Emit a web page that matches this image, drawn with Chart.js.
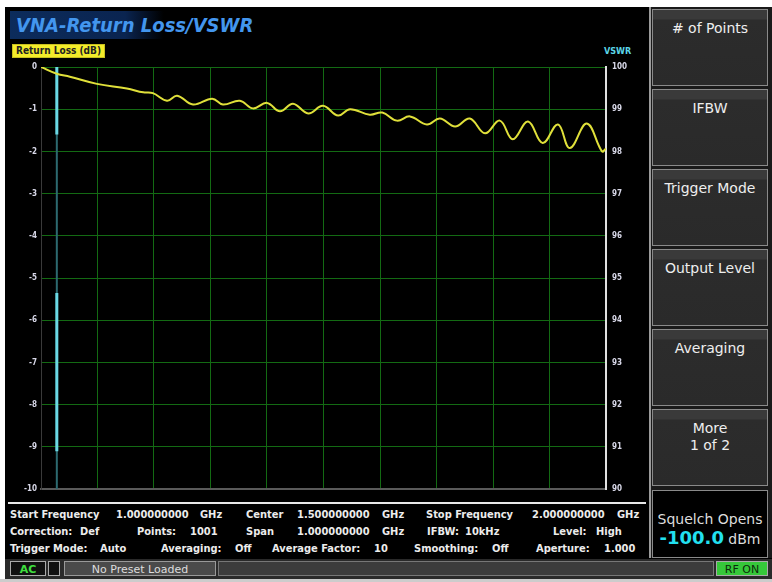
<!DOCTYPE html>
<html>
<head>
<meta charset="utf-8">
<script src="https://cdn.jsdelivr.net/npm/chart.js@4/dist/chart.umd.min.js"></script>
<style>
  body { margin: 0; width: 772px; height: 582px; background: #fff; overflow: hidden; font-family: "DejaVu Sans", sans-serif; position: relative; }
  .abs { position: absolute; }
  #screen { left: 5px; top: 7px; width: 767px; height: 575px; background: #000; }
  #title { left: 10px; top: 11px; width: 250px; height: 28px; font: italic bold 20px "DejaVu Sans Condensed", "DejaVu Sans", sans-serif; color: #4396ee; padding-left: 6px; line-height: 28px; white-space: nowrap;
           background: linear-gradient(90deg, #0c2c5c 0%, #0a2450 45%, rgba(0,0,0,0) 60%); }
  #rlTag { left: 12px; top: 44px; background: #f4ec2a; color: #222; font: bold 10px "DejaVu Sans Condensed", "DejaVu Sans", sans-serif; padding: 0 3px; border: 1px solid #c8c020; line-height: 12px; white-space: nowrap; }
  #vswrTag { left: 604px; top: 46px; color: #5cd6e8; font: bold 9px "DejaVu Sans Condensed", "DejaVu Sans", sans-serif; }
  #chartBox { left: 5px; top: 40px; width: 643px; height: 460px; }
  #sep { left: 8px; top: 502px; width: 638px; height: 2px; background: #e8e8e8; }
  .info { font: bold 11px "DejaVu Sans Condensed", "DejaVu Sans", sans-serif; color: #ececec; white-space: pre; }
  .btn { left: 652px; width: 116px; height: 77px; background: linear-gradient(#3a3a3a 0px, #3a3a3a 9px, #2c2c2c 10px, #2a2a2a 100%); border: 1px solid #8a8a8a; box-sizing: border-box; color: #eee; font: 14px "DejaVu Sans", sans-serif; text-align: center; padding-top: 10px; line-height: 17px; }
  #rightBg { left: 649px; top: 7px; width: 123px; height: 551px; background: #1a1a1a; border-left: 2px solid #9a9a9a; box-sizing: border-box; }
  #squelch { left: 652px; top: 490px; width: 116px; height: 68px; background: #000; border: 1px solid #8a8a8a; box-sizing: border-box; text-align: center; color: #ddd; font: 14px "DejaVu Sans", sans-serif; padding-top: 20px; }
  #squelch b { color: #22e0f0; font-size: 18px; }
  #status { left: 5px; top: 559px; width: 767px; height: 20px; background: #2a2a2a; }
  .sbox { top: 561px; height: 15px; font: 11px "DejaVu Sans", sans-serif; line-height: 15px; text-align: center; box-sizing: border-box; }
</style>
</head>
<body>
<div id="screen" class="abs"></div>
<div id="rightBg" class="abs"></div>
<div id="title" class="abs">VNA-Return Loss/VSWR</div>
<div id="rlTag" class="abs">Return Loss (dB)</div>
<div id="vswrTag" class="abs">VSWR</div>
<div id="chartBox" class="abs"><canvas id="c" width="643" height="460"></canvas></div>
<div id="sep" class="abs"></div>

<div class="abs info" style="left:10px;top:508px">Start Frequency</div>
<div class="abs info" style="left:116px;top:508px">1.000000000</div>
<div class="abs info" style="left:200px;top:508px">GHz</div>
<div class="abs info" style="left:246px;top:508px">Center</div>
<div class="abs info" style="left:297px;top:508px">1.500000000</div>
<div class="abs info" style="left:382px;top:508px">GHz</div>
<div class="abs info" style="left:426px;top:508px">Stop Frequency</div>
<div class="abs info" style="left:532px;top:508px">2.000000000</div>
<div class="abs info" style="left:617px;top:508px">GHz</div>

<div class="abs info" style="left:10px;top:525px">Correction:</div>
<div class="abs info" style="left:80px;top:525px">Def</div>
<div class="abs info" style="left:137px;top:525px">Points:</div>
<div class="abs info" style="left:190px;top:525px">1001</div>
<div class="abs info" style="left:246px;top:525px">Span</div>
<div class="abs info" style="left:297px;top:525px">1.000000000</div>
<div class="abs info" style="left:382px;top:525px">GHz</div>
<div class="abs info" style="left:427px;top:525px">IFBW:</div>
<div class="abs info" style="left:465px;top:525px">10kHz</div>
<div class="abs info" style="left:553px;top:525px">Level:</div>
<div class="abs info" style="left:596px;top:525px">High</div>

<div class="abs info" style="left:10px;top:542px">Trigger Mode:</div>
<div class="abs info" style="left:100px;top:542px">Auto</div>
<div class="abs info" style="left:161px;top:542px">Averaging:</div>
<div class="abs info" style="left:235px;top:542px">Off</div>
<div class="abs info" style="left:272px;top:542px">Average Factor:</div>
<div class="abs info" style="left:374px;top:542px">10</div>
<div class="abs info" style="left:414px;top:542px">Smoothing:</div>
<div class="abs info" style="left:492px;top:542px">Off</div>
<div class="abs info" style="left:536px;top:542px">Aperture:</div>
<div class="abs info" style="left:604px;top:542px">1.000</div>

<div class="abs btn" style="top:9px"># of Points</div>
<div class="abs btn" style="top:89px">IFBW</div>
<div class="abs btn" style="top:169px">Trigger Mode</div>
<div class="abs btn" style="top:249px">Output Level</div>
<div class="abs btn" style="top:329px">Averaging</div>
<div class="abs btn" style="top:409px">More<br>1 of 2</div>
<div id="squelch" class="abs">Squelch Opens<br><b>-100.0</b> dBm</div>

<div id="status" class="abs"></div>
<div class="abs sbox" style="left:10px;width:36px;background:#111;color:#3fe03f;border:1px solid #aaa;font-weight:bold">AC</div>
<div class="abs sbox" style="left:48px;width:12px;background:#111;border:1px solid #aaa"></div>
<div class="abs sbox" style="left:64px;width:152px;background:#4a4a4a;color:#ddd;border:1px solid #999">No Preset Loaded</div>
<div class="abs sbox" style="left:218px;width:496px;background:#3c3c3c;border:1px solid #777"></div>
<div class="abs sbox" style="left:716px;width:52px;background:#36c83a;color:#0b2b0b;border:1px solid #aaa">RF ON</div>
<div class="abs" style="left:0;top:579px;width:772px;height:3px;background:#ccc"></div>

<script>
// Return loss trace (GHz, dB) at peaks and troughs
const freqGHz = [1.000, 1.028, 1.051, 1.099, 1.152, 1.181, 1.198, 1.223, 1.241, 1.269, 1.303, 1.322, 1.352, 1.375,
  1.400, 1.423, 1.446, 1.473, 1.499, 1.526, 1.547, 1.582, 1.604, 1.630, 1.653, 1.683, 1.706, 1.733, 1.759,
  1.786, 1.812, 1.835, 1.862, 1.888, 1.915, 1.936, 1.966, 1.993, 2.000];
const returnLossDb = [0.00, -0.16, -0.23, -0.40, -0.51, -0.60, -0.62, -0.80, -0.68, -0.89, -0.75, -0.89, -0.80, -0.98,
  -0.85, -1.05, -0.87, -1.10, -0.92, -1.15, -1.00, -1.13, -1.08, -1.27, -1.17, -1.36, -1.22, -1.41, -1.22,
  -1.57, -1.27, -1.71, -1.29, -1.80, -1.36, -1.92, -1.34, -2.00, -1.93];

// marker line
const markerFreq = [1.028, 1.028];
const markerFull = [0, -10];
const markerTop = [0, -1.6];
const markerLow = [-5.35, -9.1];

const freqRange = [1.0, 2.0];
const freqGrid = [1.0, 1.1, 1.2, 1.3, 1.4, 1.5, 1.6, 1.7, 1.8, 1.9, 2.0];
const lossTicks = [0, -1, -2, -3, -4, -5, -6, -7, -8, -9, -10];
const vswrTicks = [100, 99, 98, 97, 96, 95, 94, 93, 92, 91, 90];

const pts = (xs, ys) => ys.map((y, i) => ({ x: xs[i], y }));
const setTicks = vals => scale => { scale.ticks = vals.map(v => ({ value: v })); };

// higher order = drawn underneath
new Chart(document.getElementById("c").getContext("2d"), {
  type: "line",
  data: {
    datasets: [
      { data: pts(markerFreq, markerFull), borderColor: "#2d6a70", borderWidth: 2, pointRadius: 0, order: 3 },
      { data: pts(markerFreq, markerTop), borderColor: "#6ad8e4", borderWidth: 3, pointRadius: 0, order: 2 },
      { data: pts(markerFreq, markerLow), borderColor: "#6ad8e4", borderWidth: 3, pointRadius: 0, order: 2 },
      { data: pts(freqGHz, returnLossDb), borderColor: "#e0e03a", borderWidth: 2, pointRadius: 0, tension: 0.4, order: 1 }
    ]
  },
  options: {
    responsive: false, animation: false,
    layout: { padding: { top: 27, bottom: 6, left: 0, right: 0 } },
    plugins: { legend: { display: false }, tooltip: { enabled: false } },
    scales: {
      x: {
        type: "linear", min: freqRange[0], max: freqRange[1],
        afterBuildTicks: setTicks(freqGrid),
        ticks: { display: false },
        grid: { color: "#136a13", lineWidth: 1, drawTicks: false },
        border: { color: "#5a5a5a", width: 2 },
        afterFit: s => { s.height = 0; }
      },
      y: {
        position: "left", min: -10, max: 0,
        afterBuildTicks: setTicks(lossTicks),
        ticks: { color: "#d8d8e8", font: { family: "DejaVu Sans Condensed", size: 8, weight: "bold" }, padding: 4 },
        grid: { color: "#136a13", lineWidth: 1, drawTicks: false },
        border: { color: "#3a3a3a", width: 1 },
        afterFit: s => { s.width = 36; }
      },
      y2: {
        position: "right", min: 90, max: 100,
        afterBuildTicks: setTicks(vswrTicks),
        ticks: { color: "#d8d8e8", font: { family: "DejaVu Sans Condensed", size: 8, weight: "bold" }, padding: 6 },
        grid: { drawOnChartArea: false, drawTicks: false },
        border: { color: "#e0e0e0", width: 2 },
        afterFit: s => { s.width = 42; }
      }
    }
  }
});
</script>
</body>
</html>
